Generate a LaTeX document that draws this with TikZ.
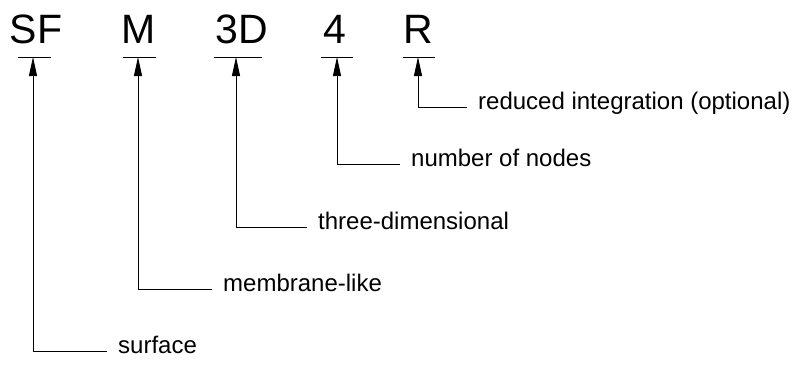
\documentclass[tikz,border=0pt]{standalone}
\usepackage{fontspec}
\setmainfont{Liberation Sans}
\usetikzlibrary{arrows.meta}
\begin{document}
\begin{tikzpicture}[x=1pt,y=-1pt,
  big/.style={font=\fontsize{41}{46}\selectfont, inner sep=0pt, anchor=base},
  lab/.style={font=\fontsize{24}{28}\selectfont, inner xsep=11pt, inner ysep=0pt, anchor=mid west},
  uline/.style={line width=0.9pt},
  arr/.style={line width=0.9pt, -{Triangle[length=19pt,width=8pt]}}]
\useasboundingbox (0,0) rectangle (798,365);
% code letters
\node[big] (sf) at (36,43) {SF};
\node[big] (m) at (138.5,43) {M};
\node[big] (d3) at (241.5,43) {3D};
\node[big] (n4) at (335,43) {4};
\node[big] (r) at (418.5,43) {R};
% underlines
\coordinate (a1) at (18,57);  \coordinate (b1) at (51,57);
\coordinate (a2) at (123,57); \coordinate (b2) at (156,57);
\coordinate (a3) at (214,57); \coordinate (b3) at (262,57);
\coordinate (a4) at (321,57); \coordinate (b4) at (353,57);
\coordinate (a5) at (403,57); \coordinate (b5) at (435,57);
\draw[uline] (a1) -- (b1);
\draw[uline] (a2) -- (b2);
\draw[uline] (a3) -- (b3);
\draw[uline] (a4) -- (b4);
\draw[uline] (a5) -- (b5);
% arrow tips
\coordinate (t1) at (33,57);
\coordinate (t2) at (138,57);
\coordinate (t3) at (236,57);
\coordinate (t4) at (337,57);
\coordinate (t5) at (418,57);
% labels
\node[lab] (lsurf) at (107,351) {surface};
\node[lab] (lmem) at (212,289) {membrane-like};
\node[lab] (lthree) at (307,227) {three-dimensional};
\node[lab] (lnum) at (400,164) {number of nodes};
\node[lab] (lred) at (467,107) {reduced integration (optional)};
% connectors
\draw[arr] (lsurf.mid west) -| (t1);
\draw[arr] (lmem.mid west) -| (t2);
\draw[arr] (lthree.mid west) -| (t3);
\draw[arr] (lnum.mid west) -| (t4);
\draw[arr] (lred.mid west) -| (t5);
\end{tikzpicture}
\end{document}
